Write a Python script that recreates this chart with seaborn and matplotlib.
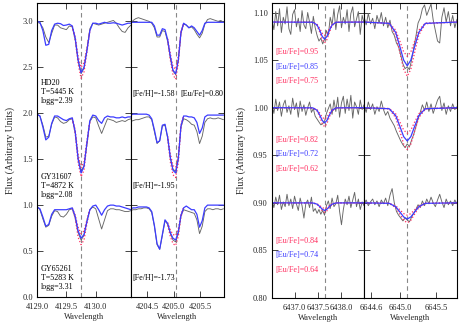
import numpy as np
import matplotlib
matplotlib.use('Agg')
import matplotlib.pyplot as plt
from matplotlib.ticker import FormatStrFormatter
import seaborn as sns

# Eu II lines (Angstrom)
eu_lines = [4129.75, 4205.04, 6437.64, 6645.10]

# wavelength sampling of the spectra
wl_4129 = np.round(np.arange(4129.00, 4130.601, 0.05), 2)
wl_4205 = np.round(np.arange(4204.19, 4205.941, 0.05), 2)
wl_6437 = np.round(np.arange(6436.52, 6438.481, 0.04), 2)
wl_6645 = np.round(np.arange(6644.50, 6645.791, 0.03), 2)
core_4129 = [4129.60, 4129.65, 4129.70, 4129.75, 4129.80, 4129.85, 4129.90]
core_4205 = [4204.89, 4204.94, 4204.99, 4205.04, 4205.09, 4205.14, 4205.19]
syn_6437 = [6436.50, 6437.39, 6437.48, 6437.54, 6437.59, 6437.64, 6437.69, 6437.74, 6437.80, 6437.89, 6438.50]
syn_6645 = [6644.50, 6644.85, 6644.94, 6645.00, 6645.05, 6645.10, 6645.15, 6645.20, 6645.26, 6645.35, 6645.80]

# ---- 4129 region
hd20_4129_obs = [2.99, 2.98, 2.93, 2.83, 2.77, 2.87, 2.96, 2.96, 2.93, 2.92, 2.91, 2.95, 2.94, 2.80, 2.57, 2.43, 2.49,
                 2.70, 2.92, 2.98, 2.97, 2.96, 2.97, 2.98, 2.99, 3.00, 3.01, 2.98, 2.93, 2.89, 2.88, 2.93, 2.96]
hd20_4129_syn = [3.00, 2.99, 2.90, 2.74, 2.75, 2.90, 2.97, 2.98, 2.975, 2.955, 2.96, 2.97, 2.95, 2.82, 2.58, 2.44, 2.50,
                 2.68, 2.90, 2.98, 2.98, 2.97, 2.98, 2.99, 2.98, 2.98, 2.985, 2.98, 2.97, 2.96, 2.97, 2.98, 2.98]
hd20_4129_hi = [2.95, 2.80, 2.54, 2.38, 2.45, 2.66, 2.90]
hd20_4129_lo = [2.95, 2.83, 2.62, 2.50, 2.55, 2.71, 2.91]

gy31607_4129_obs = [1.99, 1.97, 1.87, 1.74, 1.75, 1.88, 1.96, 1.95, 1.91, 1.89, 1.90, 1.93, 1.94, 1.79, 1.52, 1.37, 1.43,
                    1.66, 1.91, 1.96, 1.95, 1.86, 1.78, 1.86, 1.94, 1.93, 1.92, 1.90, 1.91, 1.92, 1.91, 1.93, 1.94]
gy31607_4129_syn = [1.99, 1.97, 1.85, 1.71, 1.74, 1.89, 1.97, 1.97, 1.95, 1.93, 1.92, 1.94, 1.95, 1.80, 1.50, 1.35, 1.42,
                    1.68, 1.92, 1.98, 1.97, 1.92, 1.89, 1.95, 1.97, 1.96, 1.96, 1.95, 1.95, 1.96, 1.95, 1.96, 1.96]
gy31607_4129_hi = [1.94, 1.78, 1.46, 1.31, 1.38, 1.66, 1.91]
gy31607_4129_lo = [1.95, 1.82, 1.55, 1.41, 1.47, 1.70, 1.92]

gy65261_4129_obs = [0.99, 0.95, 0.85, 0.76, 0.78, 0.88, 0.94, 0.93, 0.88, 0.87, 0.90, 0.95, 0.96, 0.86, 0.70, 0.62, 0.67,
                    0.83, 0.95, 0.98, 0.96, 0.85, 0.74, 0.84, 0.94, 0.96, 0.96, 0.95, 0.95, 0.94, 0.93, 0.93, 0.94]
gy65261_4129_syn = [0.98, 0.96, 0.87, 0.77, 0.79, 0.90, 0.95, 0.95, 0.95, 0.95, 0.95, 0.96, 0.97, 0.88, 0.72, 0.64, 0.68,
                    0.82, 0.95, 0.99, 1.00, 0.95, 0.89, 0.95, 0.99, 1.00, 1.00, 0.99, 0.99, 0.98, 0.97, 0.96, 0.95]
gy65261_4129_hi = [0.96, 0.86, 0.65, 0.57, 0.62, 0.80, 0.95]
gy65261_4129_lo = [0.97, 0.89, 0.76, 0.69, 0.72, 0.84, 0.95]

# ---- 4205 region
hd20_4205_obs = [2.97, 3.01, 3.03, 3.04, 3.03, 3.02, 3.01, 3.00, 2.98, 2.93, 2.83, 2.83, 2.90, 2.89, 2.78, 2.60, 2.46, 2.42,
                 2.57, 2.87, 2.97, 2.96, 2.93, 2.94, 2.91, 2.86, 2.82, 2.87, 2.97, 3.02, 3.03, 3.02, 3.01, 3.00, 3.01, 2.99]
hd20_4205_syn = [2.99, 2.99, 2.99, 2.99, 2.99, 2.99, 2.99, 2.99, 2.99, 2.95, 2.85, 2.85, 2.92, 2.91, 2.80, 2.62, 2.47, 2.43,
                 2.58, 2.88, 2.98, 2.96, 2.93, 2.95, 2.93, 2.89, 2.85, 2.90, 2.98, 2.99, 2.99, 2.99, 2.99, 2.99, 2.99, 2.99]
hd20_4205_hi = [2.79, 2.58, 2.42, 2.37, 2.54, 2.87, 2.98]
hd20_4205_lo = [2.81, 2.65, 2.51, 2.48, 2.62, 2.89, 2.98]

gy31607_4205_obs = [1.91, 1.92, 1.93, 1.93, 1.94, 1.95, 1.96, 1.96, 1.93, 1.80, 1.67, 1.70, 1.86, 1.87, 1.73, 1.51, 1.39, 1.37,
                    1.52, 1.85, 1.94, 1.93, 1.91, 1.88, 1.87, 1.80, 1.67, 1.75, 1.90, 1.94, 1.95, 1.94, 1.94, 1.95, 1.94, 1.93]
gy31607_4205_syn = [1.98, 1.99, 1.99, 1.99, 1.99, 1.99, 1.99, 1.98, 1.94, 1.82, 1.68, 1.70, 1.87, 1.88, 1.74, 1.52, 1.38, 1.35,
                    1.50, 1.86, 1.97, 1.97, 1.96, 1.96, 1.95, 1.90, 1.78, 1.84, 1.96, 1.98, 1.98, 1.98, 1.98, 1.98, 1.98, 1.98]
gy31607_4205_hi = [1.72, 1.47, 1.33, 1.30, 1.46, 1.85, 1.97]
gy31607_4205_lo = [1.75, 1.56, 1.43, 1.41, 1.55, 1.87, 1.97]

gy65261_4205_obs = [0.94, 0.95, 0.95, 0.96, 0.96, 0.97, 0.97, 0.96, 0.92, 0.77, 0.57, 0.52, 0.67, 0.83, 0.79, 0.69, 0.62, 0.60,
                    0.69, 0.88, 0.95, 0.94, 0.93, 0.92, 0.91, 0.84, 0.69, 0.77, 0.93, 0.96, 0.96, 0.95, 0.96, 0.96, 0.95, 0.96]
gy65261_4205_syn = [0.96, 0.97, 0.97, 0.98, 0.98, 0.98, 0.98, 0.97, 0.93, 0.78, 0.58, 0.52, 0.68, 0.84, 0.80, 0.70, 0.64, 0.62,
                    0.71, 0.89, 0.97, 0.99, 0.97, 0.95, 0.95, 0.90, 0.76, 0.83, 0.97, 1.00, 1.00, 1.00, 1.00, 1.00, 1.00, 1.00]
gy65261_4205_hi = [0.78, 0.66, 0.58, 0.56, 0.66, 0.87, 0.97]
gy65261_4205_lo = [0.81, 0.73, 0.68, 0.67, 0.74, 0.90, 0.97]

# ---- 6437 region
hd20_6437_obs = [1.093, 1.082, 1.101, 1.086, 1.104, 1.079, 1.095, 1.088, 1.106, 1.083,
                 1.077, 1.098, 1.103, 1.085, 1.094, 1.080, 1.102, 1.087, 1.083, 1.100,
                 1.090, 1.078, 1.096, 1.084, 1.076, 1.070, 1.073, 1.067, 1.072, 1.081,
                 1.076, 1.095, 1.087, 1.104, 1.082, 1.098, 1.107, 1.084, 1.095, 1.088,
                 1.103, 1.080, 1.099, 1.106, 1.085, 1.093, 1.101, 1.077, 1.097, 1.089]
gy31607_6437_obs = [1.004, 0.994, 1.009, 0.997, 1.006, 0.991, 1.003, 1.008, 0.995, 1.002,
                    0.993, 1.010, 0.998, 1.005, 0.990, 1.007, 0.996, 1.003, 0.992, 1.000,
                    1.006, 0.995, 0.999, 0.991, 0.988, 0.985, 0.982, 0.983, 0.986, 0.994,
                    0.999, 1.004, 0.993, 1.008, 0.996, 1.011, 0.990, 1.005, 1.012, 0.994,
                    1.009, 0.997, 1.013, 0.989, 1.006, 1.001, 0.993, 1.008, 0.998, 1.003]
gy65261_6437_obs = [0.903, 0.895, 0.906, 0.898, 0.908, 0.893, 0.901, 0.896, 0.909, 0.897,
                    0.904, 0.894, 0.907, 0.899, 0.892, 0.905, 0.897, 0.884, 0.899, 0.903,
                    0.895, 0.906, 0.891, 0.894, 0.889, 0.893, 0.888, 0.892, 0.887, 0.897,
                    0.902, 0.894, 0.905, 0.896, 0.899, 0.908, 0.891, 0.877, 0.893, 0.904,
                    0.898, 0.907, 0.895, 0.903, 0.911, 0.896, 0.904, 0.893, 0.901, 0.897]
hd20_6437_syn = [1.090, 1.0898, 1.0869, 1.081, 1.0749, 1.072, 1.0749, 1.081, 1.0869, 1.0898, 1.090]
hd20_6437_hi = [1.090, 1.0897, 1.0863, 1.079, 1.0715, 1.068, 1.0715, 1.079, 1.0863, 1.0897, 1.090]
hd20_6437_lo = [1.090, 1.0898, 1.0876, 1.083, 1.0782, 1.076, 1.0782, 1.083, 1.0876, 1.0898, 1.090]
gy31607_6437_syn = [1.000, 0.9998, 0.9973, 0.992, 0.9866, 0.984, 0.9866, 0.992, 0.9973, 0.9998, 1.000]
gy31607_6437_hi = [1.000, 0.9997, 0.9966, 0.990, 0.9832, 0.980, 0.9832, 0.990, 0.9966, 0.9997, 1.000]
gy31607_6437_lo = [1.000, 0.9998, 0.9980, 0.994, 0.9899, 0.988, 0.9899, 0.994, 0.9980, 0.9998, 1.000]
gy65261_6437_syn = [0.900, 0.8999, 0.8986, 0.896, 0.8933, 0.892, 0.8933, 0.896, 0.8986, 0.8999, 0.900]
gy65261_6437_hi = [0.900, 0.8999, 0.8983, 0.895, 0.8916, 0.890, 0.8916, 0.895, 0.8983, 0.8999, 0.900]
gy65261_6437_lo = [0.900, 0.8999, 0.8990, 0.897, 0.8950, 0.894, 0.8950, 0.897, 0.8990, 0.8999, 0.900]

# ---- 6645 region
hd20_6645_obs = [1.096, 1.087, 1.099, 1.088, 1.094, 1.083, 1.097, 1.089, 1.100, 1.086, 1.095,
                 1.084, 1.092, 1.080, 1.076, 1.068, 1.064, 1.055, 1.046, 1.041, 1.043, 1.040,
                 1.050, 1.063, 1.075, 1.089, 1.094, 1.104, 1.108, 1.097, 1.103, 1.109, 1.092,
                 1.081, 1.070, 1.068, 1.095, 1.105, 1.090, 1.101, 1.086, 1.097, 1.084, 1.093]
gy31607_6645_obs = [1.003, 0.995, 1.006, 0.998, 1.004, 0.993, 1.001, 0.996, 1.007, 0.998, 0.992,
                    0.996, 0.989, 0.985, 0.981, 0.975, 0.970, 0.965, 0.961, 0.958, 0.962, 0.959,
                    0.966, 0.972, 0.980, 0.988, 0.995, 1.003, 0.997, 1.006, 0.996, 1.004, 0.994,
                    1.001, 1.008, 1.012, 0.997, 1.005, 0.993, 1.002, 0.996, 1.004, 0.998, 1.001]
gy65261_6645_obs = [0.899, 0.903, 0.897, 0.901, 0.904, 0.898, 0.902, 0.896, 0.903, 0.899, 0.905,
                    0.897, 0.908, 0.915, 0.900, 0.891, 0.887, 0.884, 0.881, 0.884, 0.882, 0.880,
                    0.885, 0.889, 0.893, 0.898, 0.895, 0.902, 0.897, 0.904, 0.899, 0.906, 0.900,
                    0.896, 0.903, 0.909, 0.901, 0.895, 0.904, 0.898, 0.902, 0.897, 0.903, 0.899]
hd20_6645_syn = [1.090, 1.0886, 1.0790, 1.0635, 1.0500, 1.044, 1.0500, 1.0635, 1.0790, 1.0886, 1.090]
hd20_6645_hi = [1.090, 1.0882, 1.0763, 1.0572, 1.0404, 1.033, 1.0404, 1.0572, 1.0763, 1.0882, 1.090]
hd20_6645_lo = [1.090, 1.0889, 1.0814, 1.0693, 1.0587, 1.054, 1.0587, 1.0693, 1.0814, 1.0889, 1.090]
gy31607_6645_syn = [1.000, 0.9989, 0.9916, 0.9799, 0.9696, 0.965, 0.9696, 0.9799, 0.9916, 0.9989, 1.000]
gy31607_6645_hi = [1.000, 0.9986, 0.9894, 0.9747, 0.9617, 0.956, 0.9617, 0.9747, 0.9894, 0.9986, 1.000]
gy31607_6645_lo = [1.000, 0.9992, 0.9935, 0.9845, 0.9765, 0.973, 0.9765, 0.9845, 0.9935, 0.9992, 1.000]
gy65261_6645_syn = [0.900, 0.8995, 0.8959, 0.8902, 0.8852, 0.883, 0.8852, 0.8902, 0.8959, 0.8995, 0.900]
gy65261_6645_hi = [0.900, 0.8993, 0.8950, 0.8879, 0.8817, 0.879, 0.8817, 0.8879, 0.8950, 0.8993, 0.900]
gy65261_6645_lo = [0.900, 0.8996, 0.8969, 0.8925, 0.8887, 0.887, 0.8887, 0.8925, 0.8969, 0.8996, 0.900]

star_labels = ['HD20\nT=5445 K\nlogg=2.39', 'GY31607\nT=4872 K\nlogg=2.08', 'GY65261\nT=5283 K\nlogg=3.31']
feh_labels = ['[Fe/H]=-1.58', '[Fe/H]=-1.95', '[Fe/H]=-1.73']
eu_labels = [['0.95', '0.85', '0.75'], ['0.82', '0.72', '0.62'], ['0.84', '0.74', '0.64']]

OBS = '#666666'
BLUE = '#3c3cff'
RED = '#ff2d5f'

sns.set_style('ticks')
plt.rcParams['font.family'] = ['Liberation Serif', 'DejaVu Serif']
plt.rcParams['font.size'] = 6

W, H = 467, 327
fig = plt.figure(figsize=(W / 100, H / 100), dpi=100)


def px_axes(x0, x1, y0, y1):
    return fig.add_axes([x0 / W, 1 - y1 / H, (x1 - x0) / W, (y1 - y0) / H])


ax1 = px_axes(37, 131, 3, 297)
ax2 = px_axes(131, 224, 3, 297)
ax3 = px_axes(272, 364, 3, 298)
ax4 = px_axes(364, 457, 3, 298)


def spectrum(ax, wl, obs, swl, syn, cwl, hi, lo):
    sns.lineplot(x=wl, y=obs, ax=ax, color=OBS, lw=0.65, sort=False, estimator=None)
    sns.lineplot(x=cwl, y=hi, ax=ax, color=RED, lw=0.9, ls=':', sort=False, estimator=None)
    sns.lineplot(x=cwl, y=lo, ax=ax, color=RED, lw=0.9, ls=':', sort=False, estimator=None)
    sns.lineplot(x=swl, y=syn, ax=ax, color=BLUE, lw=0.9, sort=False, estimator=None)


spectrum(ax1, wl_4129, hd20_4129_obs, wl_4129, hd20_4129_syn, core_4129, hd20_4129_hi, hd20_4129_lo)
spectrum(ax1, wl_4129, gy31607_4129_obs, wl_4129, gy31607_4129_syn, core_4129, gy31607_4129_hi, gy31607_4129_lo)
spectrum(ax1, wl_4129, gy65261_4129_obs, wl_4129, gy65261_4129_syn, core_4129, gy65261_4129_hi, gy65261_4129_lo)
spectrum(ax2, wl_4205, hd20_4205_obs, wl_4205, hd20_4205_syn, core_4205, hd20_4205_hi, hd20_4205_lo)
spectrum(ax2, wl_4205, gy31607_4205_obs, wl_4205, gy31607_4205_syn, core_4205, gy31607_4205_hi, gy31607_4205_lo)
spectrum(ax2, wl_4205, gy65261_4205_obs, wl_4205, gy65261_4205_syn, core_4205, gy65261_4205_hi, gy65261_4205_lo)
spectrum(ax3, wl_6437, hd20_6437_obs, syn_6437, hd20_6437_syn, syn_6437, hd20_6437_hi, hd20_6437_lo)
spectrum(ax3, wl_6437, gy31607_6437_obs, syn_6437, gy31607_6437_syn, syn_6437, gy31607_6437_hi, gy31607_6437_lo)
spectrum(ax3, wl_6437, gy65261_6437_obs, syn_6437, gy65261_6437_syn, syn_6437, gy65261_6437_hi, gy65261_6437_lo)
spectrum(ax4, wl_6645, hd20_6645_obs, syn_6645, hd20_6645_syn, syn_6645, hd20_6645_hi, hd20_6645_lo)
spectrum(ax4, wl_6645, gy31607_6645_obs, syn_6645, gy31607_6645_syn, syn_6645, gy31607_6645_hi, gy31607_6645_lo)
spectrum(ax4, wl_6645, gy65261_6645_obs, syn_6645, gy65261_6645_syn, syn_6645, gy65261_6645_hi, gy65261_6645_lo)

xlims = [(4129.0, 4130.6), (4204.2, 4205.95), (6436.52, 6438.48), (6644.5, 6645.79)]
xticks = [[4129.0, 4129.5, 4130.0], [4204.5, 4205.0, 4205.5], [6437.0, 6437.5, 6438.0], [6644.6, 6645.0, 6645.5]]
for ax, xl, xt, line in zip([ax1, ax2, ax3, ax4], xlims, xticks, eu_lines):
    ax.axvline(line, color='#888888', lw=0.8, ls=(0, (4, 3)), zorder=0)
    ax.set_xlim(xl)
    ax.set_xticks(xt)
    ax.xaxis.set_major_formatter(FormatStrFormatter('%.1f'))
    ax.tick_params(direction='in', top=True, right=True, length=4, width=0.6, labelsize=6, pad=3)
    ax.tick_params(axis='x', pad=4)
    ax.set_xlabel('Wavelength', fontsize=6, labelpad=2)
    ax.set_ylabel('')
    for s in ax.spines.values():
        s.set_linewidth(0.8)
        s.set_color('black')

for ax in [ax1, ax2]:
    ax.set_ylim(0.0, 3.2)
    ax.set_yticks([0.0, 0.5, 1.0, 1.5, 2.0, 2.5, 3.0])
for ax in [ax3, ax4]:
    ax.set_ylim(0.80, 1.11)
    ax.set_yticks([0.80, 0.85, 0.90, 0.95, 1.00, 1.05, 1.10])
ax1.yaxis.set_major_formatter(FormatStrFormatter('%.1f'))
ax3.yaxis.set_major_formatter(FormatStrFormatter('%.2f'))
ax2.tick_params(labelleft=False)
ax4.tick_params(labelleft=False)
ax1.set_ylabel('Flux (Arbitrary Units)', fontsize=7, labelpad=5)
ax3.set_ylabel('Flux (Arbitrary Units)', fontsize=7, labelpad=5)


def ftext(x, y, s, color='black', size=5.8):
    fig.text(x / W, 1 - y / H, s, color=color, fontsize=size, ha='left', va='center', linespacing=1.15)


for s, y in zip(star_labels, [92, 186, 278]):
    ftext(41, y, s)
for s, y in zip(feh_labels, [94, 186, 278]):
    ftext(132, y, s)
ftext(180, 94, '[Eu/Fe]=0.80')

for trio, y0 in zip(eu_labels, [52, 140, 241]):
    for k, (v, c) in enumerate(zip(trio, [RED, BLUE, RED])):
        ftext(275, y0 + 14.5 * k, '[Eu/Fe]=' + v, color=c)

fig.savefig('out.png', dpi=100)
